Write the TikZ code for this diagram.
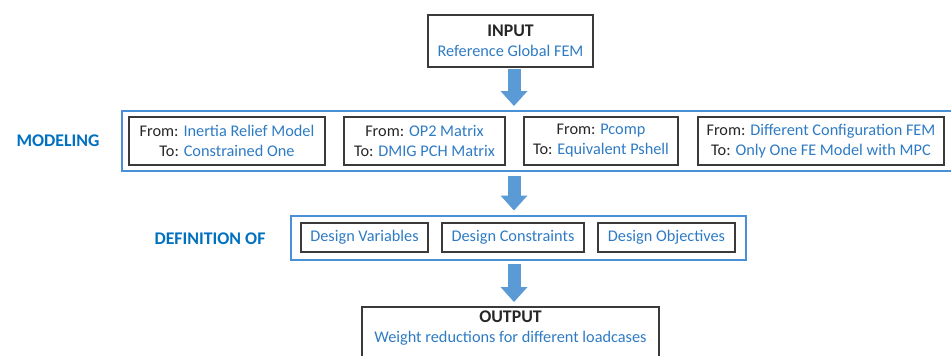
\documentclass[tikz,border=0pt]{standalone}
\usepackage{fontspec}
\setmainfont{Carlito}
\usepackage{tikz}
\usetikzlibrary{positioning,arrows.meta,fit}
\definecolor{txtblue}{HTML}{2E7BC4}
\definecolor{hdrblue}{HTML}{0070C0}
\definecolor{grpblue}{HTML}{4A90D6}
\definecolor{arrblue}{HTML}{5B9BD5}
\definecolor{boxgray}{HTML}{3A3A3A}
\newcommand{\bltxt}[1]{\textcolor{txtblue}{#1}}
\newcommand{\hdrsize}{\fontsize{17.8}{20}\selectfont\bfseries}
\tikzset{
  blk/.style={draw=boxgray,line width=2pt,align=center,inner sep=0pt,
    font=\fontsize{16.3}{20}\selectfont,text=black!85},
  grp/.style={draw=grpblue,line width=2pt,inner sep=0pt},
  lbl/.style={font=\hdrsize,text=hdrblue},
  bigarr/.style={draw=arrblue,line width=13pt,
    -{Triangle[width=27pt,length=15pt,line width=0pt]}},  % block arrow
}

\begin{document}
\begin{tikzpicture}[x=1pt,y=-1pt]
  \useasboundingbox (0,0) rectangle (951,356);
  \clip (0,0) rectangle (951,356);
  \coordinate (ax) at (514,0);
  % input
  \node[blk,minimum width=165pt,minimum height=52pt] (input) at (510.5,41)
    {{\hdrsize INPUT}\\\bltxt{Reference Global FEM}};
  % modeling row
  \node[lbl] (modlbl) at (58,141) {MODELING};
  \node[blk,minimum width=196pt,minimum height=48pt] (m1) at (227,141)
    {From: \bltxt{Inertia Relief Model}\\To: \bltxt{Constrained One}};
  \node[blk,minimum width=161pt,minimum height=48pt] (m2) at (424.5,141)
    {From: \bltxt{OP2 Matrix}\\To: \bltxt{DMIG PCH Matrix}};
  \node[blk,minimum width=154pt,minimum height=48pt] (m3) at (601,141)
    {From: \bltxt{Pcomp}\\To: \bltxt{Equivalent Pshell}};
  \node[blk,minimum width=246pt,minimum height=48pt] (m4) at (821,141)
    {From: \bltxt{Different Configuration FEM}\\To: \bltxt{Only One FE Model with MPC}};
  \node[grp,fit=(m1)(m4),inner xsep=6.5pt,inner ysep=5pt] (modbox) {};
  % definition row
  \node[lbl] (deflbl) at (210,239) {DEFINITION OF};
  \node[blk,minimum width=127pt,minimum height=29pt] (d1) at (364.5,237.5)
    {\bltxt{Design Variables}};
  \node[blk,minimum width=142pt,minimum height=29pt] (d2) at (513,237.5)
    {\bltxt{Design Constraints}};
  \node[blk,minimum width=137pt,minimum height=29pt] (d3) at (666.5,237.5)
    {\bltxt{Design Objectives}};
  \node[grp,fit=(d1)(d3),inner xsep=9.5pt,inner ysep=6.5pt] (defbox) {};
  % output
  \node[blk,anchor=north,minimum width=297pt,inner ysep=4pt] (output) at (510.5,306)
    {{\hdrsize OUTPUT}\\\bltxt{Weight reductions for different loadcases}\\\strut};
  % arrows
  \draw[bigarr,shorten <=1pt,shorten >=4pt] (ax |- input.south) -- (ax |- modbox.north);
  \draw[bigarr,shorten <=4pt,shorten >=4pt] (ax |- modbox.south) -- (ax |- defbox.north);
  \draw[bigarr,shorten <=3pt,shorten >=4pt] (ax |- defbox.south) -- (ax |- output.north);
\end{tikzpicture}
\end{document}
